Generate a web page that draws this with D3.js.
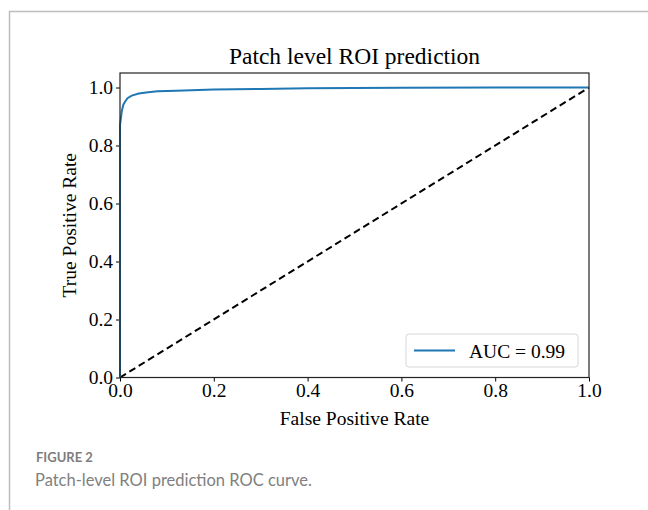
<!DOCTYPE html>
<html>
<head>
<meta charset="utf-8">
<script src="https://cdn.jsdelivr.net/npm/d3@7"></script>
<style>
    body { margin: 0; background: #fff; }
    svg { display: block; }
</style>
</head>
<body>
<svg id="chart" width="648" height="510"></svg>
<script>
// ROC curve points
const fpr = [0, 0, 0.002, 0.004, 0.007, 0.011, 0.016, 0.025, 0.04, 0.06, 0.08, 0.12, 0.2, 0.3, 0.4, 0.6, 0.8, 1.0];
const tpr = [0, 0.87, 0.895, 0.92, 0.94, 0.952, 0.963, 0.972, 0.979, 0.984, 0.987, 0.989, 0.993, 0.995, 0.997, 0.999, 1.0, 1.0];
const tickValues = [0, 0.2, 0.4, 0.6, 0.8, 1.0];
const chanceLine = [0, 1];
const legendLabel = "AUC = 0.99";

const svg = d3.select("#chart");

// card frame
svg.append("path")
    .attr("d", "M9.5,510 V11.5 H648")
    .attr("fill", "none")
    .attr("stroke", "#bdbdbd")
    .attr("stroke-width", 1.5);

const plotLeft = 120, plotRight = 589, plotBottom = 377.5;
const x = d3.scaleLinear().domain([0, 1]).range([plotLeft, plotRight]);
const y = d3.scaleLinear().domain([0, 1]).range([plotBottom, 87.5]);
const plotTop = y(1.05);

const serif = "'Liberation Serif', 'Times New Roman', serif";

// title
svg.append("text")
    .attr("x", (plotLeft + plotRight) / 2)
    .attr("y", 64)
    .attr("text-anchor", "middle")
    .attr("font-family", serif)
    .attr("font-size", 23.5)
    .attr("fill", "#000")
    .text("Patch level ROI prediction");

// axes
const xAxis = d3.axisBottom(x).tickValues(tickValues).tickFormat(d3.format(".1f")).tickSize(4).tickPadding(2);
const yAxis = d3.axisLeft(y).tickValues(tickValues).tickFormat(d3.format(".1f")).tickSize(4).tickPadding(3);

const gx = svg.append("g").attr("transform", `translate(0,${plotBottom})`).call(xAxis);
const gy = svg.append("g").attr("transform", `translate(${plotLeft},0)`).call(yAxis);
[gx, gy].forEach(g => {
    g.select(".domain").remove();
    g.selectAll("text").attr("font-family", serif).attr("font-size", 19.5).attr("fill", "#000");
    g.selectAll("line").attr("stroke", "#000").attr("stroke-width", 1);
});

// diagonal chance line
svg.append("line")
    .attr("x1", x(chanceLine[0])).attr("y1", y(chanceLine[0]))
    .attr("x2", x(chanceLine[1])).attr("y2", y(chanceLine[1]))
    .attr("stroke", "#000")
    .attr("stroke-width", 2)
    .attr("stroke-dasharray", "7,4");

// roc curve
const pts = fpr.map((f, i) => [f, tpr[i]]);
svg.append("path")
    .datum(pts)
    .attr("fill", "none")
    .attr("stroke", "#1f77b4")
    .attr("stroke-width", 2)
    .attr("d", d3.line().x(d => x(d[0])).y(d => y(d[1])));

// frame of axes
svg.append("rect")
    .attr("x", plotLeft).attr("y", plotTop)
    .attr("width", plotRight - plotLeft).attr("height", plotBottom - plotTop)
    .attr("fill", "none")
    .attr("stroke", "#222")
    .attr("stroke-width", 1.2);

// legend
const lg = svg.append("g").attr("transform", "translate(406,334)");
lg.append("rect")
    .attr("width", 172).attr("height", 33)
    .attr("rx", 3)
    .attr("fill", "#fff")
    .attr("stroke", "#d6d6d6");
lg.append("line")
    .attr("x1", 8).attr("x2", 49).attr("y1", 16.5).attr("y2", 16.5)
    .attr("stroke", "#1f77b4").attr("stroke-width", 2);
lg.append("text")
    .attr("x", 63).attr("y", 23.5)
    .attr("font-family", serif).attr("font-size", 19.5).attr("fill", "#000")
    .text(legendLabel);

// axis labels
svg.append("text")
    .attr("x", (plotLeft + plotRight) / 2)
    .attr("y", 425)
    .attr("text-anchor", "middle")
    .attr("font-family", serif).attr("font-size", 19.5)
    .text("False Positive Rate");
svg.append("text")
    .attr("transform", `translate(76,${(plotTop + plotBottom) / 2}) rotate(-90)`)
    .attr("text-anchor", "middle")
    .attr("font-family", serif).attr("font-size", 19.5)
    .text("True Positive Rate");

// caption
svg.append("text")
    .attr("x", 36).attr("y", 462)
    .attr("font-family", "Lato, sans-serif")
    .attr("font-size", 13).attr("font-weight", 700)
    .attr("fill", "#7d7d7d")
    .text("FIGURE 2");
svg.append("text")
    .attr("x", 35).attr("y", 486)
    .attr("font-family", "Lato, sans-serif")
    .attr("font-size", 16.5).attr("font-weight", 400)
    .attr("fill", "#808080")
    .text("Patch-level ROI prediction ROC curve.");
</script>
</body>
</html>
